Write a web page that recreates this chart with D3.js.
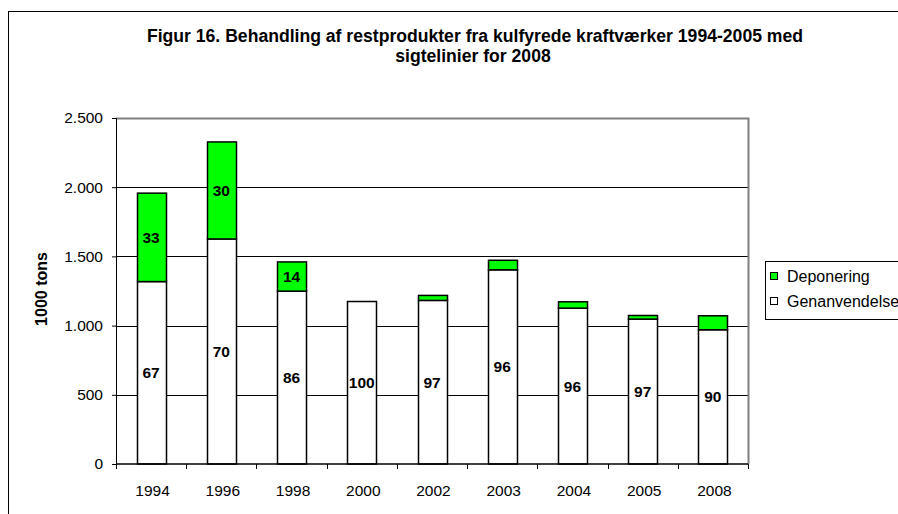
<!DOCTYPE html>
<html>
<head>
<meta charset="utf-8">
<script src="https://cdn.jsdelivr.net/npm/d3@7"></script>
<style>
  body { margin: 0; background: #fff; }
  text { font-family: "Liberation Sans", Arial, sans-serif; }
</style>
</head>
<body>
<script>
// data (1000 tons)
const years = ['1994', '1996', '1998', '2000', '2002', '2003', '2004', '2005', '2008'];
const genanvendelse = [1318, 1626, 1249, 1174, 1182, 1403, 1126, 1047, 970];
const deponering = [639, 701, 211, 0, 36, 69, 46, 26, 101];
const pctGen = [67, 70, 86, 100, 97, 96, 96, 97, 90];
const pctDep = [33, 30, 14, null, null, null, null, null, null];
const yTicks = [0, 500, 1000, 1500, 2000, 2500];
const seriesNames = ['Deponering', 'Genanvendelse'];

const width = 898, height = 514;
const plot = { left: 116, right: 748, top: 118, bottom: 464 };

const fmt = d3.formatLocale({ decimal: ',', thousands: '.', grouping: [3], currency: ['', ''] }).format(',');

const svg = d3.select('body').append('svg')
    .attr('width', width)
    .attr('height', height);

// outer chart border (cropped on right and bottom)
svg.append('rect')
    .attr('x', 8.5).attr('y', 11.5)
    .attr('width', 1000).attr('height', 600)
    .attr('fill', 'none')
    .attr('stroke', '#000')
    .attr('stroke-width', 1);

svg.append('text')
    .attr('x', 475).attr('y', 42)
    .attr('text-anchor', 'middle')
    .style('font-size', '17.6px').style('font-weight', 'bold')
    .text('Figur 16. Behandling af restprodukter fra kulfyrede kraftværker 1994-2005 med');
svg.append('text')
    .attr('x', 473).attr('y', 62)
    .attr('text-anchor', 'middle')
    .style('font-size', '17.6px').style('font-weight', 'bold')
    .text('sigtelinier for 2008');

const x = d3.scaleBand()
    .domain(years)
    .range([plot.left, plot.right])
    .paddingInner(0.59)
    .paddingOuter(0.295);

const y = d3.scaleLinear()
    .domain([0, 2500])
    .range([plot.bottom, plot.top]);

// gridlines
svg.append('g')
  .selectAll('line')
  .data(yTicks.slice(1))
  .join('line')
    .attr('x1', plot.left).attr('x2', plot.right)
    .attr('y1', d => Math.round(y(d)) + 0.5)
    .attr('y2', d => Math.round(y(d)) + 0.5)
    .attr('stroke', '#000')
    .attr('stroke-width', 1);

// plot area frame (gray, top + right)
svg.append('path')
    .attr('d', `M${plot.left},${plot.top + 0.5}H${plot.right + 0.5}V${plot.bottom}`)
    .attr('fill', 'none')
    .attr('stroke', '#808080')
    .attr('stroke-width', 2);

// bars
const bars = svg.append('g');
years.forEach((yr, i) => {
    const x0 = Math.round(x(yr)) + 0.5;
    const w = Math.round(x.bandwidth());
    bars.append('rect')
        .attr('x', x0).attr('width', w)
        .attr('y', y(genanvendelse[i]))
        .attr('height', y(0) - y(genanvendelse[i]))
        .attr('fill', '#fff')
        .attr('stroke', '#000').attr('stroke-width', 1.5);
    if (deponering[i] > 0) {
        const top = genanvendelse[i] + deponering[i];
        bars.append('rect')
            .attr('x', x0).attr('width', w)
            .attr('y', y(top))
            .attr('height', y(genanvendelse[i]) - y(top))
            .attr('fill', '#00ff00')
            .attr('stroke', '#000').attr('stroke-width', 1.5);
    }
});

// value labels
const labels = svg.append('g')
    .style('font-size', '15.5px').style('font-weight', 'bold')
    .attr('text-anchor', 'middle');
years.forEach((yr, i) => {
    const cx = x(yr) + x.bandwidth() / 2;
    labels.append('text')
        .attr('x', cx)
        .attr('y', (y(0) + y(genanvendelse[i])) / 2)
        .attr('dy', '0.36em')
        .text(pctGen[i]);
    if (pctDep[i] != null) {
        labels.append('text')
            .attr('x', cx)
            .attr('y', (y(genanvendelse[i]) + y(genanvendelse[i] + deponering[i])) / 2)
            .attr('dy', '0.36em')
            .text(pctDep[i]);
    }
});

// y axis
const yAxis = svg.append('g')
    .attr('transform', `translate(${plot.left},0)`)
    .call(d3.axisLeft(y).tickValues(yTicks).tickFormat(fmt).tickSizeOuter(0).tickSize(4).tickPadding(9));
yAxis.select('.domain').attr('stroke', '#000');
yAxis.selectAll('.tick text').style('font-size', '15.5px').attr('fill', '#000')
    .style('font-family', '"Liberation Sans", Arial, sans-serif');

// x axis: ticks at category boundaries
const xg = svg.append('g').attr('transform', `translate(0,${plot.bottom})`);
xg.append('line')
    .attr('x1', plot.left).attr('x2', plot.right)
    .attr('stroke', '#000').attr('stroke-width', 1.5);
const step = x.step();
xg.selectAll('line.tk')
  .data(d3.range(years.length + 1))
  .join('line')
    .attr('class', 'tk')
    .attr('x1', i => Math.round(plot.left + i * step) + 0.5)
    .attr('x2', i => Math.round(plot.left + i * step) + 0.5)
    .attr('y1', 0).attr('y2', 5)
    .attr('stroke', '#000');
xg.selectAll('text')
  .data(years)
  .join('text')
    .attr('x', d => x(d) + x.bandwidth() / 2 + 1.5)
    .attr('y', 32)
    .attr('text-anchor', 'middle')
    .style('font-size', '15.5px')
    .text(d => d);

// y axis title
svg.append('text')
    .attr('transform', `translate(47,289) rotate(-90)`)
    .attr('text-anchor', 'middle')
    .style('font-size', '16px').style('font-weight', 'bold')
    .text('1000 tons');

// legend
const lg = svg.append('g');
lg.append('rect')
    .attr('x', 765.5).attr('y', 261.5)
    .attr('width', 200).attr('height', 58)
    .attr('fill', '#fff').attr('stroke', '#000');
const legendColors = ['#00ff00', '#fff'];
seriesNames.forEach((name, i) => {
    const ly = 276 + i * 25;
    lg.append('rect')
        .attr('x', 770.5).attr('y', ly - 3.5)
        .attr('width', 7).attr('height', 7)
        .attr('fill', legendColors[i]).attr('stroke', '#000');
    lg.append('text')
        .attr('x', 787).attr('y', ly)
        .attr('dy', '0.36em')
        .style('font-size', '16px')
        .text(name);
});
</script>
</body>
</html>
